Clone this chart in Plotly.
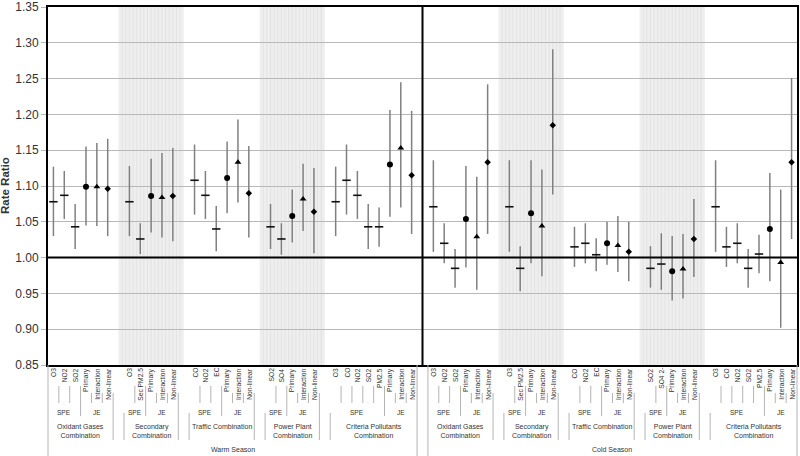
import plotly.graph_objects as go

# ---------------- data ----------------
seasons = ["Warm Season", "Cold Season"]
group_names = ["Oxidant Gases<br>Combination", "Secondary<br>Combination",
               "Traffic Combination", "Power Plant<br>Combination",
               "Criteria Pollutants<br>Combination"]
spe_counts = [3, 2, 3, 2, 5]
shaded_groups = [1, 3]

oxidant_labels = ["O3", "NO2", "SO2", "Primary", "Interaction", "Non-linear"]
secondary_labels = ["O3", "Sec PM2.5", "Primary", "Interaction", "Non-linear"]
traffic_labels = ["CO", "NO2", "EC", "Primary", "Interaction", "Non-linear"]
power_labels_warm = ["SO2", "SO4", "Primary", "Interaction", "Non-linear"]
power_labels_cold = ["SO2", "SO4 2-", "Primary", "Interaction", "Non-linear"]
criteria_labels = ["O3", "CO", "NO2", "SO2", "PM2.5", "Primary", "Interaction", "Non-linear"]

# Warm season
warm_oxidant_est = [1.078, 1.087, 1.043, 1.099, 1.099, 1.096]
warm_oxidant_lo = [1.030, 1.054, 1.012, 1.045, 1.044, 1.030]
warm_oxidant_hi = [1.127, 1.121, 1.075, 1.155, 1.160, 1.166]

warm_secondary_est = [1.078, 1.026, 1.086, 1.084, 1.086]
warm_secondary_lo = [1.030, 1.005, 1.035, 1.028, 1.023]
warm_secondary_hi = [1.128, 1.048, 1.138, 1.146, 1.153]

warm_traffic_est = [1.108, 1.087, 1.040, 1.111, 1.133, 1.090]
warm_traffic_lo = [1.060, 1.054, 1.009, 1.062, 1.077, 1.028]
warm_traffic_hi = [1.158, 1.121, 1.072, 1.162, 1.193, 1.156]

warm_power_est = [1.043, 1.026, 1.058, 1.082, 1.064]
warm_power_lo = [1.012, 1.004, 1.021, 1.037, 1.006]
warm_power_hi = [1.075, 1.048, 1.095, 1.131, 1.125]

warm_criteria_est = [1.078, 1.108, 1.087, 1.043, 1.043, 1.130, 1.153, 1.115]
warm_criteria_lo = [1.030, 1.060, 1.054, 1.012, 1.015, 1.057, 1.070, 1.033]
warm_criteria_hi = [1.127, 1.158, 1.121, 1.075, 1.070, 1.206, 1.245, 1.205]

# Cold season
cold_oxidant_est = [1.071, 1.020, 0.985, 1.054, 1.029, 1.133]
cold_oxidant_lo = [1.008, 0.992, 0.958, 0.986, 0.955, 1.033]
cold_oxidant_hi = [1.136, 1.048, 1.012, 1.128, 1.113, 1.242]

cold_secondary_est = [1.071, 0.985, 1.062, 1.044, 1.185]
cold_secondary_lo = [1.008, 0.953, 0.992, 0.974, 1.088]
cold_secondary_hi = [1.136, 1.016, 1.136, 1.123, 1.291]

cold_traffic_est = [1.015, 1.020, 1.004, 1.020, 1.017, 1.008]
cold_traffic_lo = [0.987, 0.992, 0.981, 0.990, 0.980, 0.967]
cold_traffic_hi = [1.043, 1.048, 1.027, 1.050, 1.058, 1.050]

cold_power_est = [0.985, 0.991, 0.981, 0.984, 1.026]
cold_power_lo = [0.958, 0.955, 0.940, 0.943, 0.973]
cold_power_hi = [1.016, 1.034, 1.030, 1.033, 1.082]

cold_criteria_est = [1.071, 1.015, 1.020, 0.985, 1.005, 1.040, 0.993, 1.133]
cold_criteria_lo = [1.008, 0.987, 0.992, 0.958, 0.978, 0.967, 0.902, 1.026]
cold_criteria_hi = [1.136, 1.043, 1.048, 1.012, 1.032, 1.118, 1.095, 1.251]

y_ticks = [0.85, 0.90, 0.95, 1.00, 1.05, 1.10, 1.15, 1.20, 1.25, 1.30, 1.35]

season_groups = {
    "Warm Season": [
        (oxidant_labels, warm_oxidant_est, warm_oxidant_lo, warm_oxidant_hi),
        (secondary_labels, warm_secondary_est, warm_secondary_lo, warm_secondary_hi),
        (traffic_labels, warm_traffic_est, warm_traffic_lo, warm_traffic_hi),
        (power_labels_warm, warm_power_est, warm_power_lo, warm_power_hi),
        (criteria_labels, warm_criteria_est, warm_criteria_lo, warm_criteria_hi),
    ],
    "Cold Season": [
        (oxidant_labels, cold_oxidant_est, cold_oxidant_lo, cold_oxidant_hi),
        (secondary_labels, cold_secondary_est, cold_secondary_lo, cold_secondary_hi),
        (traffic_labels, cold_traffic_est, cold_traffic_lo, cold_traffic_hi),
        (power_labels_cold, cold_power_est, cold_power_lo, cold_power_hi),
        (criteria_labels, cold_criteria_est, cold_criteria_lo, cold_criteria_hi),
    ],
}

# ---------------- layout helpers ----------------
W, H = 800, 456
ML, MR, MT, MB = 48, 3, 7, 91
PLOT_TOP, PLOT_BOT = MT, H - MB
N_SLOTS = 69
X_MIN, X_MAX = -0.5, N_SLOTS - 0.5


def px(slot):
    return (slot - X_MIN) / (X_MAX - X_MIN)


def py(ypix):
    return (PLOT_BOT - ypix) / (PLOT_BOT - PLOT_TOP)


LABEL_FONT = "Liberation Sans, Arial, sans-serif"
TXT = "#333333"
SEP = "#b4b4b4"

xs, ys, lo_err, hi_err, kinds = [], [], [], [], []
annotations, shapes = [], []
season_ranges = []

slot = 0
for s_name in seasons:
    s_start = slot
    for gi, (labels, est, lo, hi) in enumerate(season_groups[s_name]):
        n_spe = spe_counts[gi]
        s0 = slot
        s1 = slot + len(labels) - 1
        for k, lab in enumerate(labels):
            x = s0 + k
            xs.append(x)
            ys.append(est[k])
            lo_err.append(est[k] - lo[k])
            hi_err.append(hi[k] - est[k])
            kinds.append("SPE" if k < n_spe else ["Primary", "Interaction", "Non-linear"][k - n_spe])
            annotations.append(dict(
                x=px(x), y=0, xref="paper", yref="paper", text=lab, showarrow=False,
                textangle=-90, xanchor="center", yanchor="top", yshift=-1,
                font=dict(size=6.7, color=TXT, family=LABEL_FONT)))
            if k < len(labels) - 1:
                if k == n_spe - 1:
                    ya, yb = 386, 416
                elif k < n_spe - 1:
                    ya, yb = 386, 403
                else:
                    ya, yb = 393, 403
                shapes.append(dict(type="line", xref="paper", yref="paper",
                                   x0=px(x + 0.5), x1=px(x + 0.5), y0=py(ya), y1=py(yb),
                                   line=dict(color=SEP, width=1)))
        # level 2 labels
        annotations.append(dict(
            x=px((s0 + s0 + n_spe - 1) / 2), y=0, xref="paper", yref="paper", text="SPE",
            showarrow=False, xanchor="center", yanchor="middle", yshift=-(412 - PLOT_BOT),
            font=dict(size=6.5, color=TXT, family=LABEL_FONT)))
        annotations.append(dict(
            x=px((s0 + n_spe + s1) / 2), y=0, xref="paper", yref="paper", text="JE",
            showarrow=False, xanchor="center", yanchor="middle", yshift=-(412 - PLOT_BOT),
            font=dict(size=6.5, color=TXT, family=LABEL_FONT)))
        # level 3 group label
        annotations.append(dict(
            x=px((s0 + s1) / 2), y=0, xref="paper", yref="paper", text=group_names[gi],
            showarrow=False, xanchor="center", yanchor="top", yshift=-(421 - PLOT_BOT),
            font=dict(size=7, color=TXT, family=LABEL_FONT)))
        # group edges
        if s0 != s_start:
            shapes.append(dict(type="line", xref="paper", yref="paper",
                               x0=px(s0 - 0.5), x1=px(s0 - 0.5), y0=py(413), y1=py(440),
                               line=dict(color=SEP, width=1)))
        if gi < len(season_groups[s_name]) - 1:
            shapes.append(dict(type="line", xref="paper", yref="paper",
                               x0=px(s1 + 0.5), x1=px(s1 + 0.5), y0=py(393), y1=py(440),
                               line=dict(color=SEP, width=1)))
        # shading
        if gi in shaded_groups:
            a, b = s0 - 1, s1 + 1
            shapes.append(dict(type="rect", xref="x", yref="y", x0=a, x1=b,
                               y0=y_ticks[0], y1=y_ticks[-1], layer="below",
                               fillcolor="#eeeeee", line=dict(width=0)))
            n_str = int(round((b - a) * 3))
            for j in range(1, n_str):
                xx = a + j / 3
                shapes.append(dict(type="line", xref="x", yref="y", x0=xx, x1=xx,
                                   y0=y_ticks[0], y1=y_ticks[-1], layer="below",
                                   line=dict(color="#e3e3e3", width=1)))
        slot = s1 + 2
    s_end = slot - 2
    season_ranges.append((s_name, s_start, s_end))

for s_name, a, b in season_ranges:
    annotations.append(dict(
        x=px((a + b) / 2), y=0, xref="paper", yref="paper", text=s_name, showarrow=False,
        xanchor="center", yanchor="middle", yshift=-(449 - PLOT_BOT),
        font=dict(size=7, color=TXT, family=LABEL_FONT)))
    for edge in (a - 0.5, b + 0.5):
        shapes.append(dict(type="line", xref="paper", yref="paper",
                           x0=px(edge), x1=px(edge), y0=py(PLOT_BOT), y1=py(456),
                           line=dict(color=SEP, width=1)))

# y-axis title
annotations.append(dict(
    x=0, y=0.5, xref="paper", yref="paper", text="<b>Rate Ratio</b>", showarrow=False,
    textangle=-90, xanchor="center", yanchor="middle", xshift=-43,
    font=dict(size=11.5, color=TXT, family=LABEL_FONT)))

# reference line at 1.00 and season divider
shapes.append(dict(type="line", xref="paper", yref="y", x0=0, x1=1, y0=1.0, y1=1.0,
                   line=dict(color="black", width=2)))
mid_slot = season_ranges[0][2] + 1
shapes.append(dict(type="line", xref="x", yref="paper", x0=mid_slot, x1=mid_slot, y0=0, y1=1,
                   line=dict(color="black", width=2)))

fig = go.Figure()

# error bars
fig.add_trace(go.Scatter(
    x=xs, y=ys, mode="markers", marker=dict(size=1, color="rgba(0,0,0,0)"),
    error_y=dict(type="data", symmetric=False, array=hi_err, arrayminus=lo_err,
                 color="#808080", thickness=1.5, width=0),
    showlegend=False, hoverinfo="skip"))

marker_styles = {
    "SPE": dict(symbol="line-ew", size=6, color="black", line=dict(width=1.6, color="#111")),
    "Primary": dict(symbol="circle", size=6, color="black"),
    "Interaction": dict(symbol="triangle-up", size=6, color="black"),
    "Non-linear": dict(symbol="diamond", size=5, color="black"),
}
for kind, mstyle in marker_styles.items():
    fx = [x for x, k in zip(xs, kinds) if k == kind]
    fy = [y for y, k in zip(ys, kinds) if k == kind]
    fig.add_trace(go.Scatter(x=fx, y=fy, mode="markers", marker=mstyle,
                             showlegend=False, name=kind))

fig.update_layout(
    width=W, height=H,
    margin=dict(l=ML, r=MR, t=MT, b=MB, pad=0, autoexpand=False),
    paper_bgcolor="white", plot_bgcolor="white",
    showlegend=False,
    xaxis=dict(range=[X_MIN, X_MAX], showgrid=False, zeroline=False, showticklabels=False,
               ticks="", showline=True, linecolor="black", linewidth=2, mirror=True),
    yaxis=dict(range=[y_ticks[0] - 1e-6, y_ticks[-1] + 1e-6], tickvals=y_ticks,
               ticktext=[f"{v:.2f}" for v in y_ticks], ticklabeloverflow="allow",
               showgrid=True, gridcolor="#b8b8b8", gridwidth=1, zeroline=False,
               ticks="outside", ticklen=5, tickcolor="#b8b8b8",
               showline=True, linecolor="black", linewidth=2, mirror=True,
               tickfont=dict(size=12, color=TXT, family=LABEL_FONT)),
    annotations=annotations,
    shapes=shapes,
)

fig.write_html("out.html", config={"displayModeBar": False, "staticPlot": True},
               post_script="document.body.style.margin='0px';document.body.style.overflow='hidden';")
